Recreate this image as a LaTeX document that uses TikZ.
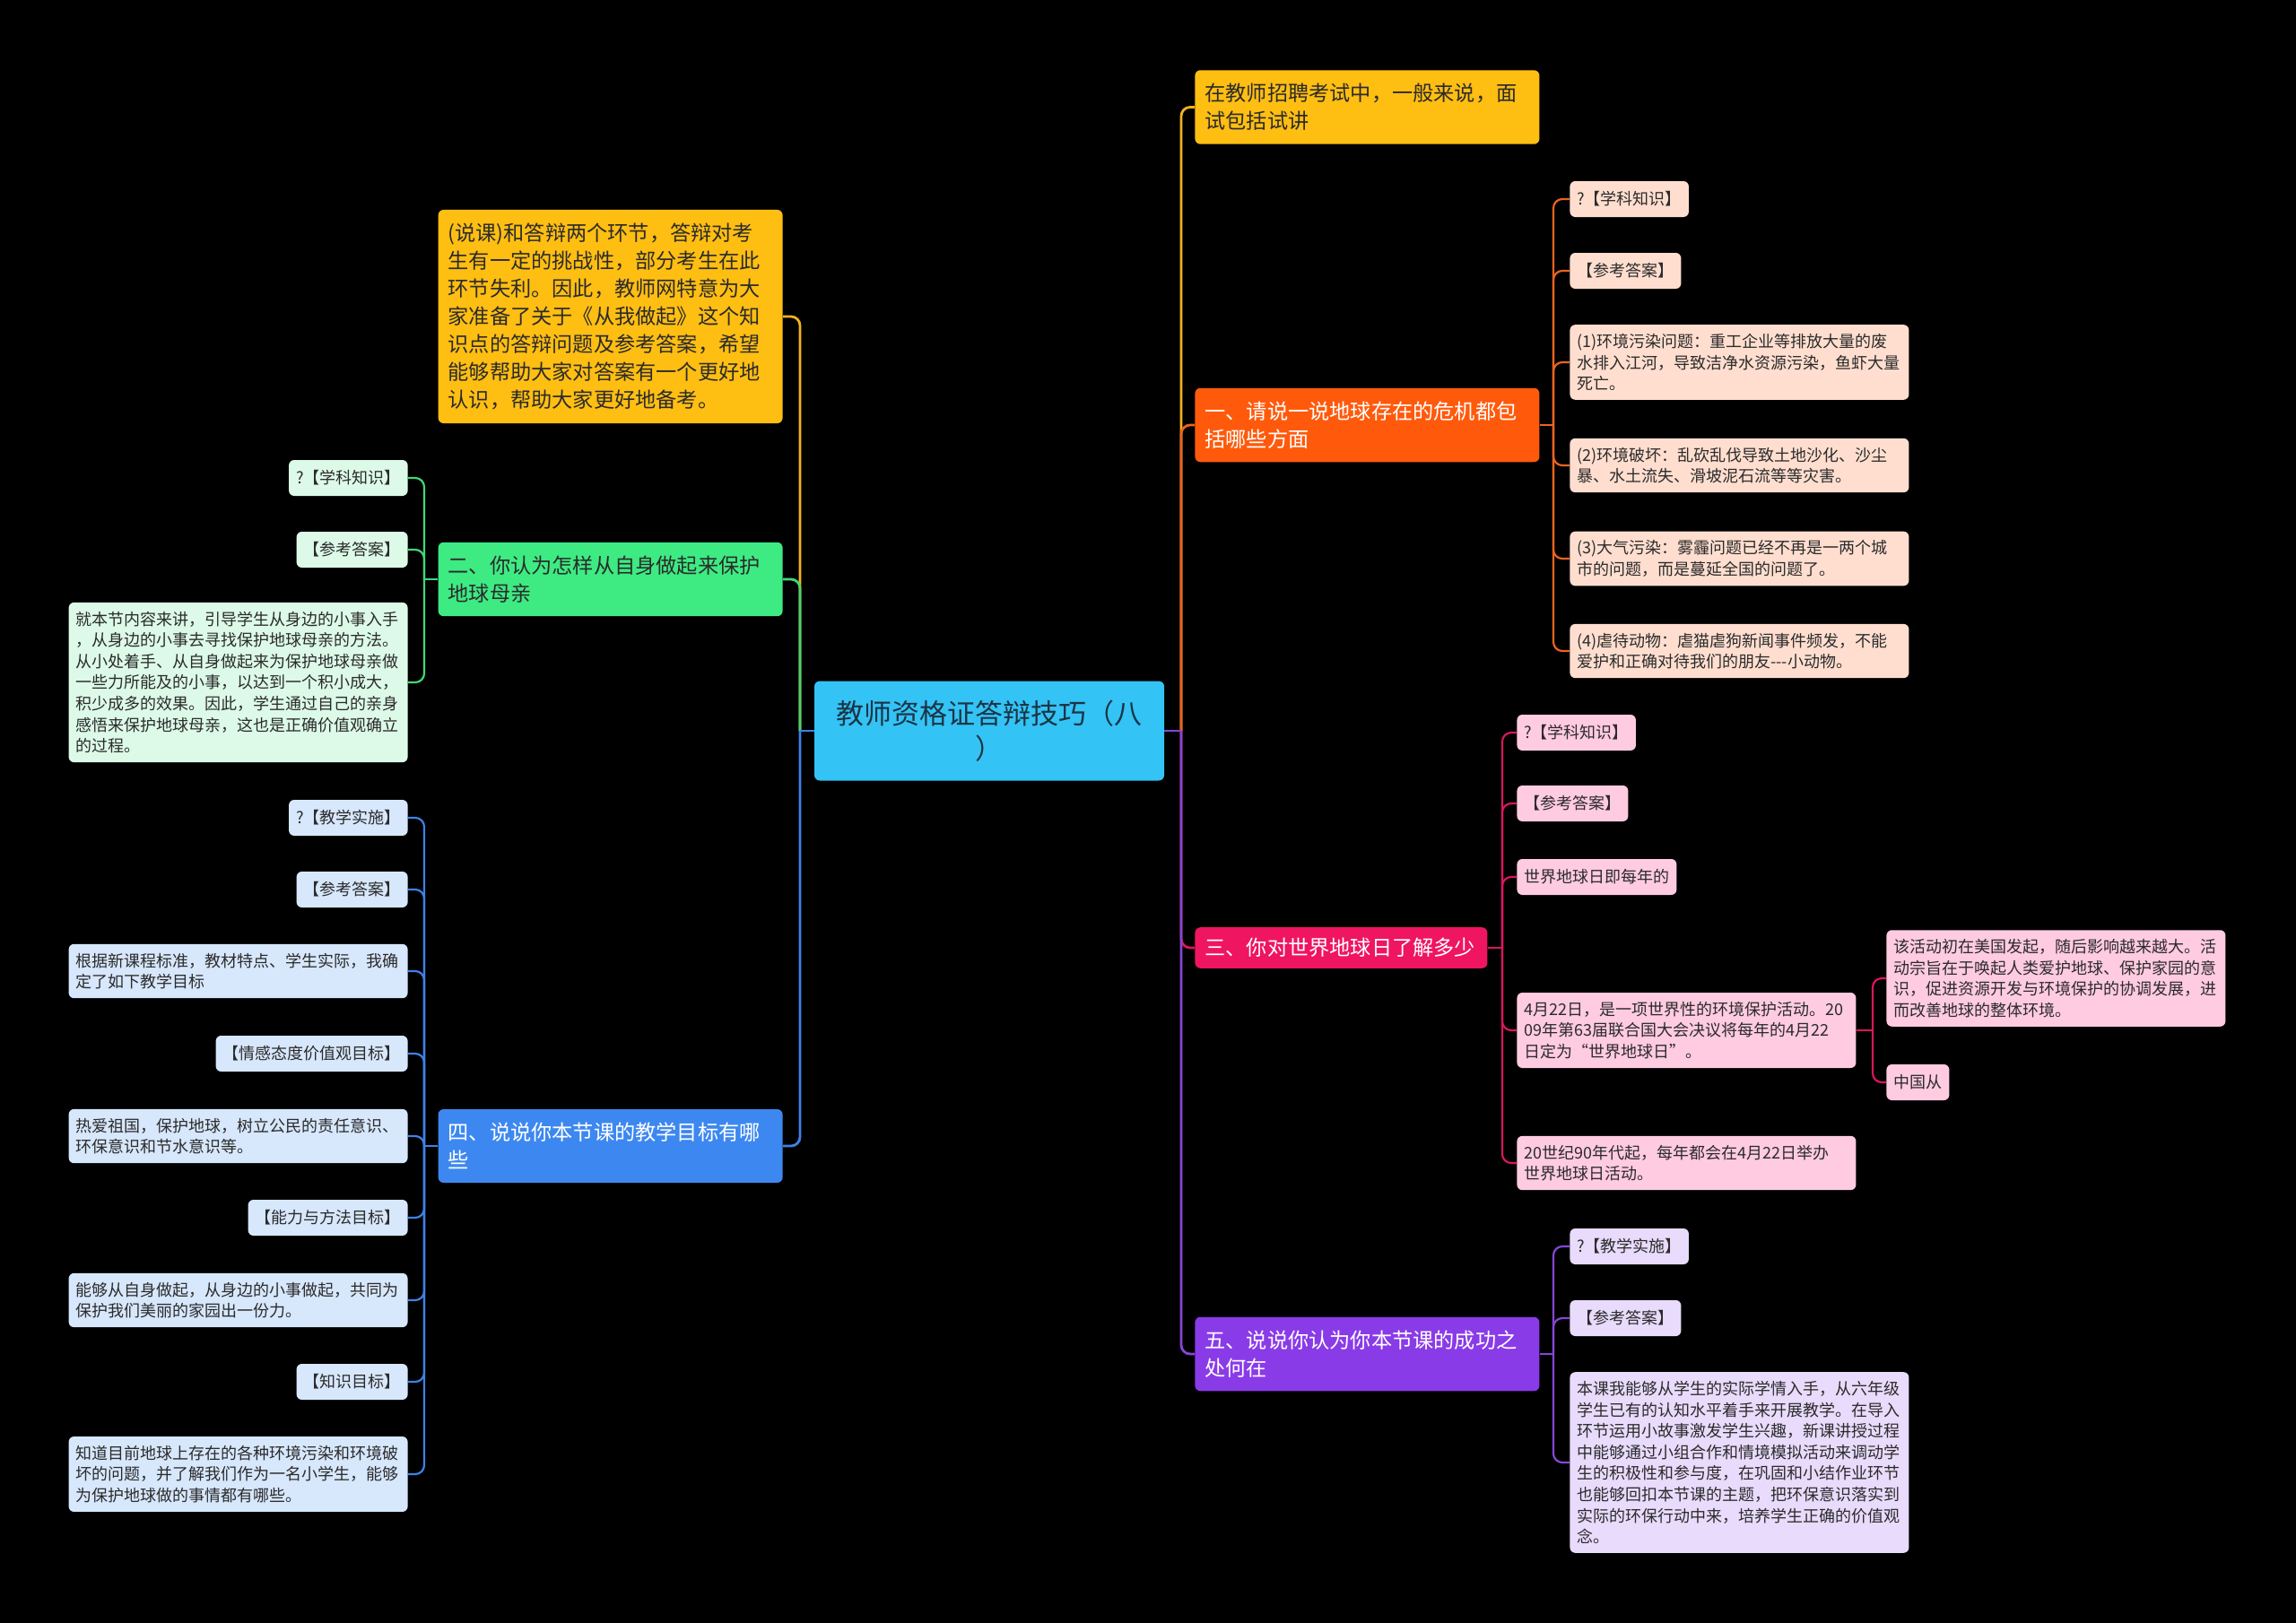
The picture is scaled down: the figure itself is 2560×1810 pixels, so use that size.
\documentclass[tikz,border=0pt]{standalone}
\usepackage{fontspec}
\setmainfont{Noto Sans CJK SC}
\usepackage{xcolor}
\usepackage{tikz}

\definecolor{rootfill}{HTML}{33C3F5}
\definecolor{roottext}{HTML}{1B3445}
\definecolor{amber}{HTML}{FFBE12}
\definecolor{amberline}{HTML}{F2B21E}
\definecolor{orangefill}{HTML}{FF5A0C}
\definecolor{orangeline}{HTML}{EA6420}
\definecolor{peach}{HTML}{FFDECF}
\definecolor{pinkfill}{HTML}{EF1560}
\definecolor{pinkline}{HTML}{D8175E}
\definecolor{pinklight}{HTML}{FFCBE0}
\definecolor{purplefill}{HTML}{8A3BE8}
\definecolor{purpleline}{HTML}{8646D8}
\definecolor{lavender}{HTML}{E8DBFB}
\definecolor{greenfill}{HTML}{3DEB82}
\definecolor{greenline}{HTML}{40D878}
\definecolor{mint}{HTML}{DCFAE7}
\definecolor{bluefill}{HTML}{3D88F0}
\definecolor{blueline}{HTML}{3E82E6}
\definecolor{bluelight}{HTML}{D7E7FC}
\definecolor{darktext}{HTML}{2B2B2B}

\begin{document}
\begin{tikzpicture}[
  x=0.5pt, y=-0.5pt,
  root/.style={fill=rootfill, text=roottext, rounded corners=3pt, align=center, text width=178pt, minimum height=55.5pt, inner xsep=8.5pt, font=\fontsize{15.5}{19.6}\selectfont},
  branch/.style={rounded corners=3pt, align=left, text width=181pt, inner xsep=5.5pt, inner ysep=7.5pt, font=\fontsize{11.6}{15.5}\selectfont},
  leaf/.style={rounded corners=3pt, align=left, inner xsep=4pt, inner ysep=5pt, minimum height=20pt, text=darktext, font=\fontsize{9}{11.8}\selectfont},
  wide/.style={leaf, text width=181pt},
  trunk/.style={line width=1.4pt},
  twig/.style={line width=1.1pt, rounded corners=5pt}
]
\fill[black] (0,0) rectangle (2560,1810);

% centre
\node[root] (root) at (1103,815) {教师资格证答辩技巧（八\\）};

% right branches
\node[branch, fill=amber, text=darktext, anchor=west] (hire) at (1332,119.5) {在教师招聘考试中，一般来说，面\\试包括试讲};
\node[branch, fill=orangefill, text=white, anchor=west] (crisis) at (1332,474) {一、请说一说地球存在的危机都包\\括哪些方面};
\node[branch, fill=pinkfill, text=white, anchor=west, text width=152pt, inner ysep=6pt] (earthday) at (1332,1057) {三、你对世界地球日了解多少};
\node[branch, fill=purplefill, text=white, anchor=west] (success) at (1332,1510) {五、说说你认为你本节课的成功之\\处何在};

% left branches
\node[branch, fill=amber, text=darktext, anchor=east] (intro) at (873,353) {(说课)和答辩两个环节，答辩对考\\生有一定的挑战性，部分考生在此\\环节失利。因此，教师网特意为大\\家准备了关于《从我做起》这个知\\识点的答辩问题及参考答案，希望\\能够帮助大家对答案有一个更好地\\认识，帮助大家更好地备考。};
\node[branch, fill=greenfill, text=darktext, anchor=east] (protect) at (873,646) {二、你认为怎样从自身做起来保护\\地球母亲};
\node[branch, fill=bluefill, text=white, anchor=east] (goal) at (873,1278) {四、说说你本节课的教学目标有哪\\些};

% crisis leaves
\node[leaf, fill=peach, anchor=west] (c1) at (1750,222) {?【学科知识】};
\node[leaf, fill=peach, anchor=west] (c2) at (1750,302) {【参考答案】};
\node[wide, fill=peach, anchor=west] (c3) at (1750,404) {(1)环境污染问题：重工企业等排放大量的废\\水排入江河，导致洁净水资源污染，鱼虾大量\\死亡。};
\node[wide, fill=peach, anchor=west] (c4) at (1750,519) {(2)环境破坏：乱砍乱伐导致土地沙化、沙尘\\暴、水土流失、滑坡泥石流等等灾害。};
\node[wide, fill=peach, anchor=west] (c5) at (1750,623) {(3)大气污染：雾霾问题已经不再是一两个城\\市的问题，而是蔓延全国的问题了。};
\node[wide, fill=peach, anchor=west] (c6) at (1750,726) {(4)虐待动物：虐猫虐狗新闻事件频发，不能\\爱护和正确对待我们的朋友-{}-{}-小动物。};

% earth day leaves
\node[leaf, fill=pinklight, anchor=west] (e1) at (1691,817) {?【学科知识】};
\node[leaf, fill=pinklight, anchor=west] (e2) at (1691,896) {【参考答案】};
\node[leaf, fill=pinklight, anchor=west] (e3) at (1691,978) {世界地球日即每年的};
\node[wide, fill=pinklight, anchor=west] (e4) at (1691,1149) {4月22日，是一项世界性的环境保护活动。20\\09年第63届联合国大会决议将每年的4月22\\日定为“世界地球日”。};
\node[wide, fill=pinklight, anchor=west] (e5) at (1691,1297) {20世纪90年代起，每年都会在4月22日举办\\世界地球日活动。};
\node[wide, fill=pinklight, anchor=west] (e41) at (2103,1091) {该活动初在美国发起，随后影响越来越大。活\\动宗旨在于唤起人类爱护地球、保护家园的意\\识，促进资源开发与环境保护的协调发展，进\\而改善地球的整体环境。};
\node[leaf, fill=pinklight, anchor=west] (e42) at (2103,1207) {中国从};

% success leaves
\node[leaf, fill=lavender, anchor=west] (s1) at (1750,1390) {?【教学实施】};
\node[leaf, fill=lavender, anchor=west] (s2) at (1750,1470) {【参考答案】};
\node[wide, fill=lavender, anchor=west] (s3) at (1750,1631) {本课我能够从学生的实际学情入手，从六年级\\学生已有的认知水平着手来开展教学。在导入\\环节运用小故事激发学生兴趣，新课讲授过程\\中能够通过小组合作和情境模拟活动来调动学\\生的积极性和参与度，在巩固和小结作业环节\\也能够回扣本节课的主题，把环保意识落实到\\实际的环保行动中来，培养学生正确的价值观\\念。};

% protect leaves
\node[leaf, fill=mint, anchor=east] (p1) at (455,533) {?【学科知识】};
\node[leaf, fill=mint, anchor=east] (p2) at (455,613) {【参考答案】};
\node[wide, fill=mint, anchor=east] (p3) at (455,761) {就本节内容来讲，引导学生从身边的小事入手\\，从身边的小事去寻找保护地球母亲的方法。\\从小处着手、从自身做起来为保护地球母亲做\\一些力所能及的小事，以达到一个积小成大，\\积少成多的效果。因此，学生通过自己的亲身\\感悟来保护地球母亲，这也是正确价值观确立\\的过程。};

% goal leaves
\node[leaf, fill=bluelight, anchor=east] (g1) at (455,912) {?【教学实施】};
\node[leaf, fill=bluelight, anchor=east] (g2) at (455,992) {【参考答案】};
\node[wide, fill=bluelight, anchor=east] (g3) at (455,1083) {根据新课程标准，教材特点、学生实际，我确\\定了如下教学目标};
\node[leaf, fill=bluelight, anchor=east] (g4) at (455,1175) {【情感态度价值观目标】};
\node[wide, fill=bluelight, anchor=east] (g5) at (455,1267) {热爱祖国，保护地球，树立公民的责任意识、\\环保意识和节水意识等。};
\node[leaf, fill=bluelight, anchor=east] (g6) at (455,1358) {【能力与方法目标】};
\node[wide, fill=bluelight, anchor=east] (g7) at (455,1450) {能够从自身做起，从身边的小事做起，共同为\\保护我们美丽的家园出一份力。};
\node[leaf, fill=bluelight, anchor=east] (g8) at (455,1541) {【知识目标】};
\node[wide, fill=bluelight, anchor=east] (g9) at (455,1644) {知道目前地球上存在的各种环境污染和环境破\\坏的问题，并了解我们作为一名小学生，能够\\为保护地球做的事情都有哪些。};

% spine points
\coordinate (rS) at (1317,815);
\coordinate (lS) at (892,815);
\coordinate (cS) at (1732,474);
\coordinate (eS) at (1675,1057);
\coordinate (e4S) at (2088,1149);
\coordinate (sS) at (1732,1510);
\coordinate (pS) at (473,646);
\coordinate (gS) at (473,1278);

% trunks
\draw[trunk, amberline] (root.east) -- (rS);
\draw[trunk, amberline, rounded corners=5pt] (rS) |- (hire.west);
\draw[trunk, orangeline, rounded corners=5pt] (rS) |- (crisis.west);
\draw[trunk, pinkline, rounded corners=5pt] (rS) |- (earthday.west);
\draw[trunk, purpleline] (root.east) -- (rS);
\draw[trunk, purpleline, rounded corners=5pt] (rS) |- (success.west);
\draw[trunk, amberline, rounded corners=5pt] (lS) |- (intro.east);
\draw[trunk, greenline, rounded corners=5pt] (lS) |- (protect.east);
\draw[trunk, blueline] (root.west) -- (lS);
\draw[trunk, blueline, rounded corners=5pt] (lS) |- (goal.east);

% twigs
\draw[twig, orangeline] (crisis.east) -- (cS);
\foreach \n in {c1,c2,c3,c4,c5,c6}
  \draw[twig, orangeline] (cS) |- (\n.west);
\draw[twig, pinkline] (earthday.east) -- (eS);
\foreach \n in {e1,e2,e3,e4,e5}
  \draw[twig, pinkline] (eS) |- (\n.west);
\draw[twig, pinkline] (e4.east) -- (e4S);
\foreach \n in {e41,e42}
  \draw[twig, pinkline] (e4S) |- (\n.west);
\draw[twig, purpleline] (success.east) -- (sS);
\foreach \n in {s1,s2,s3}
  \draw[twig, purpleline] (sS) |- (\n.west);
\draw[twig, greenline] (protect.west) -- (pS);
\foreach \n in {p1,p2,p3}
  \draw[twig, greenline] (pS) |- (\n.east);
\draw[twig, blueline] (goal.west) -- (gS);
\foreach \n in {g1,g2,g3,g4,g5,g6,g7,g8,g9}
  \draw[twig, blueline] (gS) |- (\n.east);
\end{tikzpicture}
\end{document}
